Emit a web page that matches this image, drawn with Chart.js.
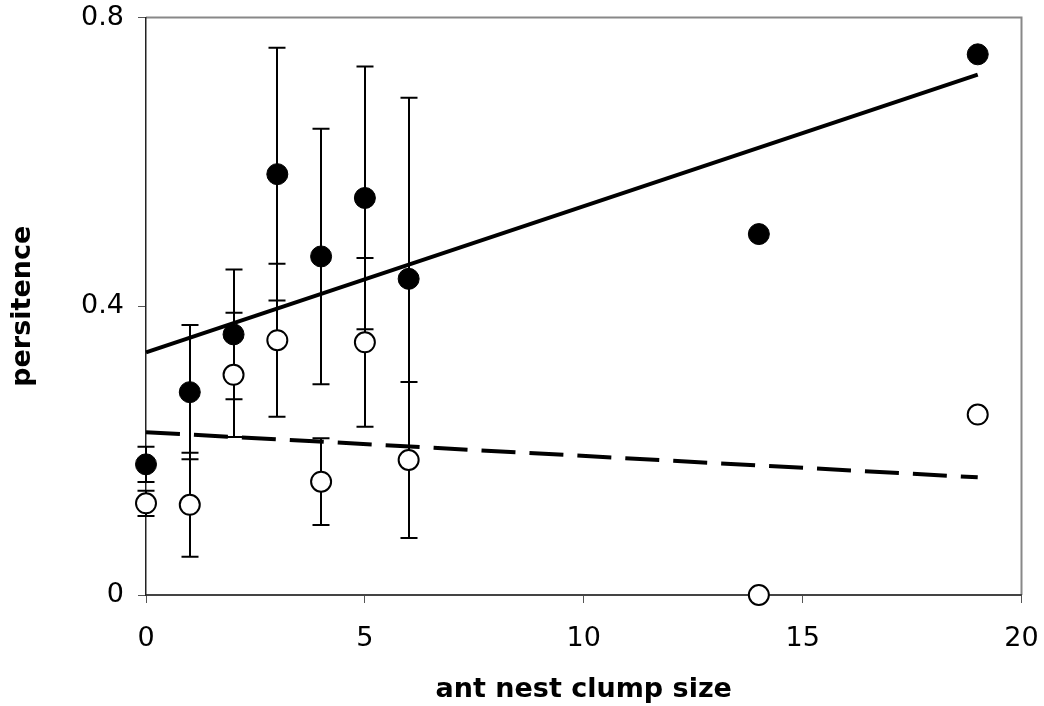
<!DOCTYPE html>
<html>
<head>
<meta charset="utf-8">
<script src="https://cdn.jsdelivr.net/npm/chart.js@4"></script>
<style>
  html, body { margin: 0; padding: 0; background: #fff; }
  #wrap { width: 1044px; height: 706px; }
</style>
</head>
<body>
<div id="wrap"><canvas id="chart" width="1044" height="706"></canvas></div>
<script>
// ---- data ----
const clumpSize = [0, 1, 2, 3, 4, 5, 6, 14, 19];
const persFilled = [0.181, 0.281, 0.361, 0.583, 0.469, 0.550, 0.438, 0.500, 0.749];
const errFilled  = [0.0245, 0.093, 0.090, 0.175, 0.177, 0.182, 0.251, null, null];
const persOpen   = [0.127, 0.125, 0.305, 0.353, 0.157, 0.350, 0.187, 0.000, 0.250];
const errOpen    = [0.0175, 0.072, 0.086, 0.106, 0.060, 0.117, 0.108, null, null];

// trendlines (end points)
const trendX = [0, 19];
const trendFilled = [0.336, 0.721];
const trendOpen = [0.2255, 0.163];

const xTicks = [0, 5, 10, 15, 20];
const yTicks = [0, 0.4, 0.8];

const FONT = "'DejaVu Sans', Verdana, sans-serif";

function pts(xs, ys) {
    return xs.map((x, i) => ({ x: x, y: ys[i] }));
}

// let layout.padding alone decide the plot area
function noPad(s) {
    s.paddingLeft = 0; s.paddingRight = 0;
    s.paddingTop = 0; s.paddingBottom = 0;
}

// error bars, drawn under the markers
const errorBars = {
    id: "errorBars",
    beforeDatasetsDraw(chart) {
        const ctx = chart.ctx;
        const xs = chart.scales.x, ys = chart.scales.y;
        const cap = 8.5;
        ctx.save();
        ctx.strokeStyle = "#000";
        ctx.lineWidth = 2;
        [[persFilled, errFilled], [persOpen, errOpen]].forEach(([vals, errs]) => {
            vals.forEach((v, i) => {
                if (errs[i] == null) return;
                const px = Math.round(xs.getPixelForValue(clumpSize[i]));
                const top = ys.getPixelForValue(v + errs[i]);
                const bot = ys.getPixelForValue(v - errs[i]);
                ctx.beginPath();
                ctx.moveTo(px, top); ctx.lineTo(px, bot);
                ctx.moveTo(px - cap, top); ctx.lineTo(px + cap, top);
                ctx.moveTo(px - cap, bot); ctx.lineTo(px + cap, bot);
                ctx.stroke();
            });
        });
        ctx.restore();
    }
};

// grey plot-area frame on top and right
const frame = {
    id: "frame",
    beforeDraw(chart) {
        const a = chart.chartArea;
        const ctx = chart.ctx;
        ctx.save();
        ctx.fillStyle = "#fff";
        ctx.fillRect(0, 0, chart.width, chart.height);
        ctx.strokeStyle = "#888";
        ctx.lineWidth = 2;
        ctx.beginPath();
        ctx.moveTo(a.left, a.top);
        ctx.lineTo(a.right, a.top);
        ctx.lineTo(a.right, a.bottom);
        ctx.stroke();
        ctx.restore();
    }
};

new Chart(document.getElementById("chart"), {
    type: "scatter",
    data: {
        datasets: [
            {
                label: "trend filled",
                type: "line",
                data: pts(trendX, trendFilled),
                borderColor: "#000",
                borderWidth: 4,
                pointRadius: 0,
                fill: false,
                order: 0
            },
            {
                label: "trend open",
                type: "line",
                data: pts(trendX, trendOpen),
                borderColor: "#000",
                borderWidth: 4,
                borderDash: [34, 14],
                pointRadius: 0,
                fill: false,
                order: 0
            },
            {
                label: "filled",
                data: pts(clumpSize, persFilled),
                pointRadius: 10.5,
                pointBackgroundColor: "#000",
                pointBorderColor: "#000",
                pointBorderWidth: 1,
                order: 1
            },
            {
                label: "open",
                data: pts(clumpSize, persOpen),
                pointRadius: 10,
                pointBackgroundColor: "#fff",
                pointBorderColor: "#000",
                pointBorderWidth: 2,
                order: 2
            }
        ]
    },
    options: {
        responsive: false,
        devicePixelRatio: 1,
        animation: false,
        clip: false,
        layout: { padding: { left: 0, top: 17.5, right: 22.5, bottom: 0 } },
        plugins: { legend: { display: false }, tooltip: { enabled: false } },
        scales: {
            x: {
                type: "linear",
                min: 0, max: 20,
                afterFit(s) { s.height = 111; noPad(s); },
                afterBuildTicks(s) { s.ticks = xTicks.map(v => ({ value: v })); },
                grid: { drawOnChartArea: false, tickLength: 8, tickColor: "#555", tickWidth: 1 },
                border: { color: "#444", width: 2 },
                ticks: { color: "#000", font: { family: FONT, size: 27 }, padding: 20 },
                title: {
                    display: true, text: "ant nest clump size", color: "#000",
                    font: { family: FONT, size: 27, weight: "bold" },
                    padding: { top: 0, bottom: 0 }
                }
            },
            y: {
                type: "linear",
                min: 0, max: 0.8,
                afterFit(s) { s.width = 146; noPad(s); },
                afterBuildTicks(s) { s.ticks = yTicks.map(v => ({ value: v })); },
                grid: { drawOnChartArea: false, tickLength: 8, tickColor: "#555", tickWidth: 1 },
                border: { color: "#222", width: 1.5 },
                ticks: {
                    color: "#000", font: { family: FONT, size: 27 }, padding: 14,
                    callback: v => String(v)
                },
                title: {
                    display: true, text: "persitence", color: "#000",
                    font: { family: FONT, size: 27, weight: "bold" },
                    padding: { top: 7, bottom: 0 }
                }
            }
        }
    },
    plugins: [frame, errorBars]
});
</script>
</body>
</html>
